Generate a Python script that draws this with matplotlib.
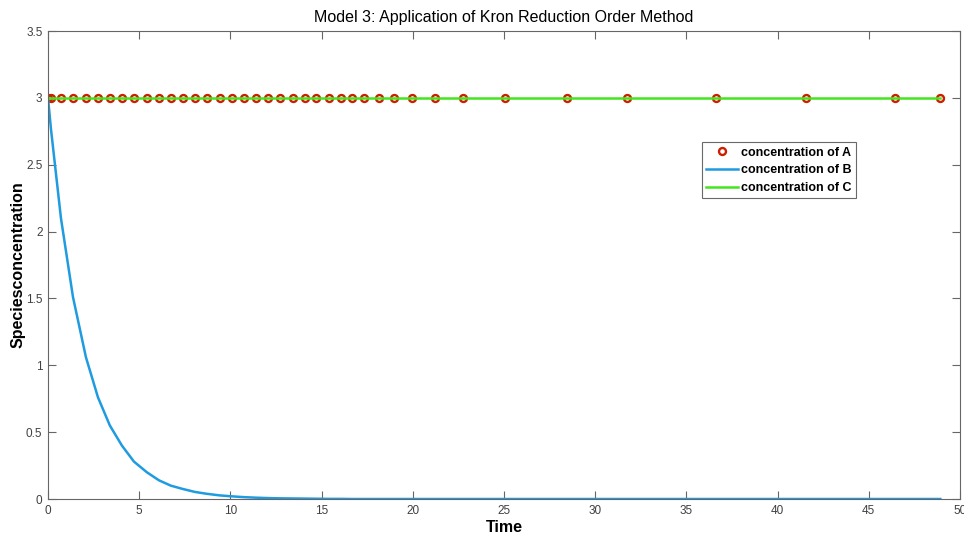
import matplotlib
matplotlib.use("Agg")
from matplotlib import pyplot as plt


# =============================================================================
# Data
# =============================================================================
time = [0, 0.16, 0.71, 1.37, 2.08, 2.74, 3.39, 4.05, 4.71, 5.42, 6.08, 6.73,
    7.39, 8.05, 8.70, 9.41, 10.07, 10.73, 11.38, 12.04, 12.70, 13.41, 14.07,
    14.72, 15.38, 16.04, 16.69, 17.35, 18.12, 18.99, 19.98, 21.21, 22.75,
    25.06, 28.45, 31.75, 36.62, 41.53, 46.41, 48.92]
conc_a = [3.0] * len(time)
conc_b = [3.0, 2.77, 2.10, 1.51, 1.06, 0.76, 0.55, 0.40, 0.28, 0.20, 0.14,
    0.10, 0.075, 0.053, 0.039, 0.027, 0.020, 0.014, 0.010, 0.007, 0.005,
    0.004, 0.003, 0.002, 0.001, 0.001, 0, 0, 0, 0, 0, 0, 0, 0, 0, 0, 0, 0, 0,
    0]
conc_c = [3.0] * len(time)

labels = ['concentration of A', 'concentration of B', 'concentration of C']
xticks = [0, 5, 10, 15, 20, 25, 30, 35, 40, 45, 50]
yticks = [0, 0.5, 1, 1.5, 2, 2.5, 3, 3.5]
yticklabels = ['0', '0.5', '1', '1.5', '2', '2.5', '3', '3.5']


# =============================================================================
# Plot parameters
# =============================================================================
matplotlib.rcParams['font.sans-serif'] = 'Liberation Sans'
matplotlib.rcParams['font.family'] = 'sans-serif'
axis_color = '#666666'


# =============================================================================
# Plot
# =============================================================================
fig = plt.figure(figsize=(9.64, 5.35), dpi=100)
ax = fig.add_axes([48/964, 1 - 499/535, 912/964, 468/535])

ax.plot(time, conc_a, 'o', markersize=5, markerfacecolor='none',
    markeredgecolor='#cc1f00', markeredgewidth=1.7, label=labels[0])
ax.plot(time, conc_b, color='#1f9be0', linewidth=1.8, label=labels[1])
ax.plot(time, conc_c, color='#44e51f', linewidth=1.8, label=labels[2])

ax.set_xlim(0, 50)
ax.set_ylim(0, 3.5)
ax.set_xticks(xticks)
ax.set_xticklabels([str(t) for t in xticks])
ax.set_yticks(yticks)
ax.set_yticklabels(yticklabels)
ax.tick_params(direction='in', length=6, width=0.8, colors=axis_color,
    labelsize=8.5, labelcolor='#404040', top=True, right=True, pad=4)
for sp in ax.spines.values():
    sp.set_color(axis_color)
    sp.set_linewidth(0.8)

ax.set_title('Model 3: Application of Kron Reduction Order Method',
    fontsize=11.5, y=1.028, va='center', pad=0)
ax.set_xlabel('Time', fontsize=11.5, fontweight='bold', va='center')
ax.xaxis.set_label_coords(0.5, -0.06)
ax.set_ylabel('Speciesconcentration', fontsize=11.5, fontweight='bold',
    va='center')
ax.yaxis.set_label_coords(-0.033, 0.5)

leg = ax.legend(loc='upper left', bbox_to_anchor=(0.717, 0.762),
    fontsize=9, frameon=True, fancybox=False, handlelength=2.5,
    handletextpad=0.3, borderpad=0.35, labelspacing=0.45,
    borderaxespad=0)
leg.get_frame().set_edgecolor('#444444')
leg.get_frame().set_linewidth(0.8)
for t in leg.get_texts():
    t.set_fontweight('bold')

fig.savefig('out.png', dpi=100)
plt.close()
